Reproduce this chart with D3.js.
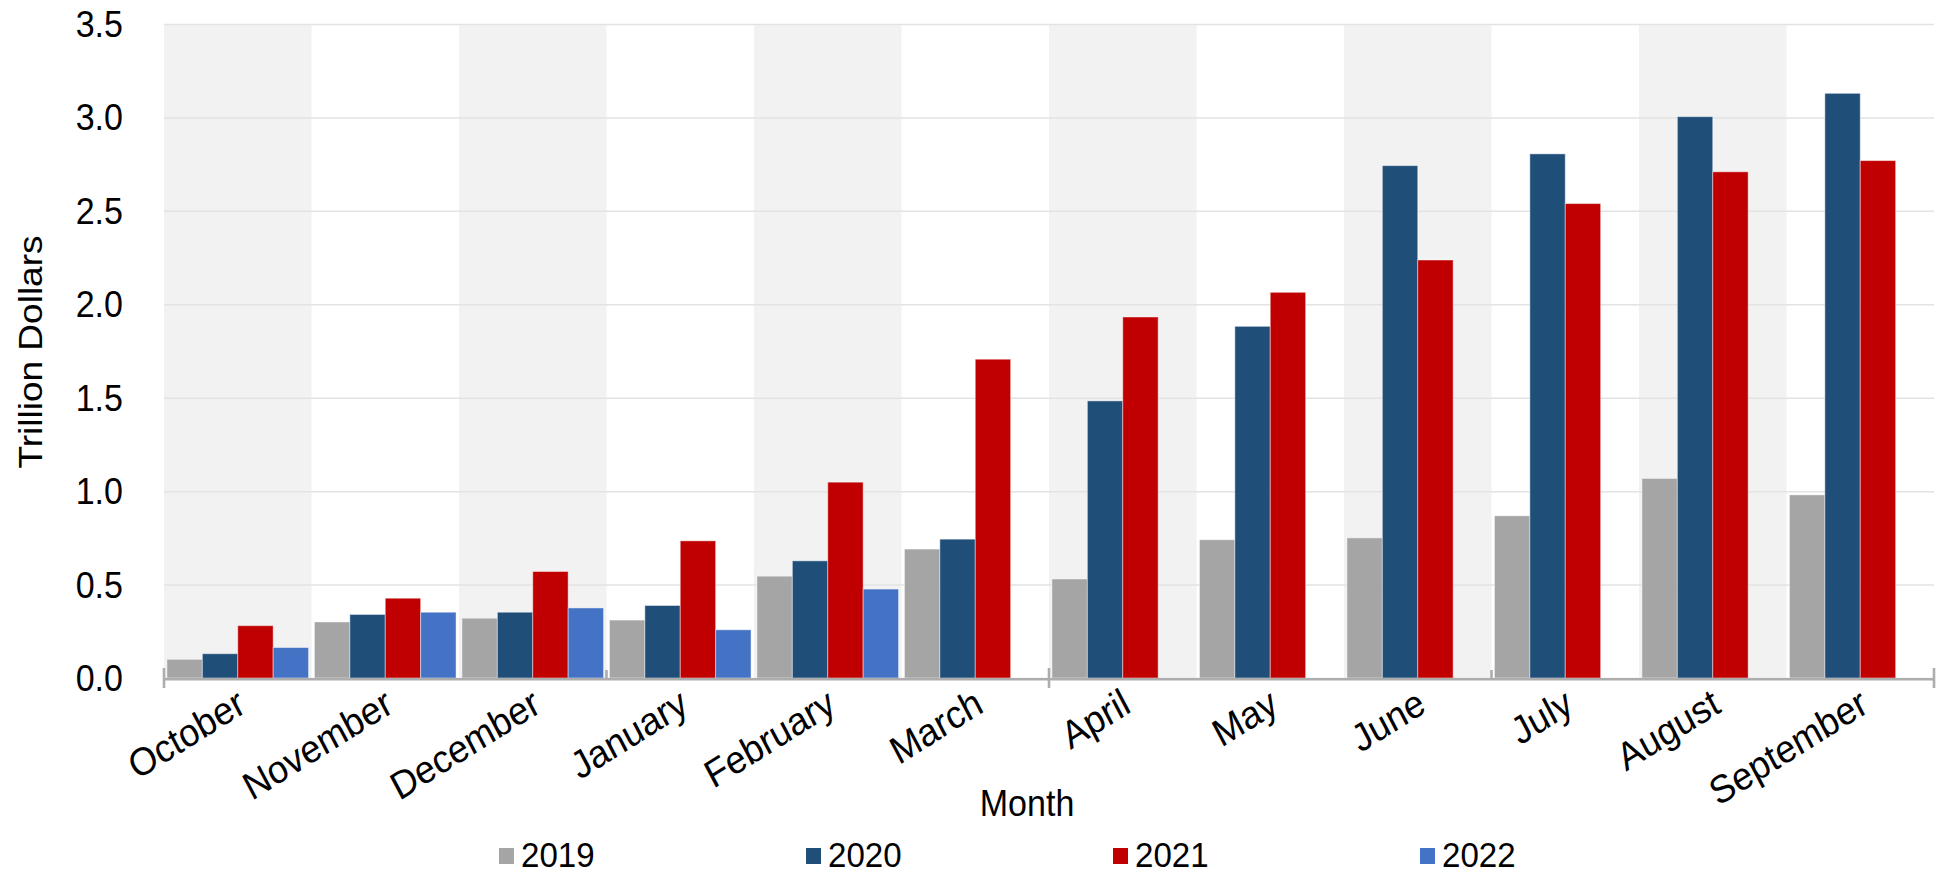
<!DOCTYPE html>
<html>
<head>
<meta charset="utf-8">
<script src="https://cdn.jsdelivr.net/npm/d3@7/dist/d3.min.js"></script>
<style>
    body { margin: 0; background: #fff; }
    text { font-family: "Liberation Sans", Arial, sans-serif; fill: #000; font-size: 37px; }
</style>
</head>
<body>
<div id="chart"></div>
<script>
// chart values, trillion dollars
var months = ["October", "November", "December", "January", "February", "March",
    "April", "May", "June", "July", "August", "September"];
var years = ["2019", "2020", "2021", "2022"];
var values2019 = [0.10, 0.30, 0.32, 0.31, 0.545, 0.69, 0.53, 0.74, 0.75, 0.868, 1.068, 0.98];
var values2020 = [0.13, 0.34, 0.352, 0.388, 0.627, 0.743, 1.483, 1.882, 2.742, 2.805, 3.004, 3.129];
var values2021 = [0.28, 0.427, 0.57, 0.734, 1.048, 1.706, 1.932, 2.064, 2.237, 2.539, 2.709, 2.769];
var values2022 = [0.163, 0.352, 0.375, 0.258, 0.476, null, null, null, null, null, null, null];
var yTicks = [0, 0.5, 1.0, 1.5, 2.0, 2.5, 3.0, 3.5];
var colors = ["#A5A5A5", "#1F4E79", "#C00000", "#4472C4"];

var seriesValues = [values2019, values2020, values2021, values2022];

var svgWidth = 1946;
var svgHeight = 876;

var margin = { top: 24, right: 12, bottom: 198, left: 164 };
var width = 1934 - margin.left;
var height = 678 - margin.top;

// the text in the original is a little narrow
var squeeze = 0.92;

var svg = d3.select("#chart")
    .append("svg")
    .attr("width", svgWidth)
    .attr("height", svgHeight);

var chartGroup = svg.append("g")
    .attr("transform", `translate(${margin.left}, ${margin.top})`);

var x0 = d3.scaleBand()
    .domain(months)
    .range([0, width])
    .paddingInner(0.04)
    .paddingOuter(0.02);

var x1 = d3.scaleBand()
    .domain(years)
    .range([0, x0.bandwidth()]);

var y = d3.scaleLinear()
    .domain([0, 3.5])
    .range([height, 0]);

var step = x0.step();

// alternating month shading
chartGroup.selectAll(".shade")
    .data(months.filter(function (d, i) { return i % 2 === 0; }))
    .enter().append("rect")
    .attr("class", "shade")
    .attr("x", function (d) { return x0(d) - step * x0.paddingInner() / 2; })
    .attr("y", 0)
    .attr("width", step)
    .attr("height", height)
    .attr("fill", "#F2F2F2");

// gridlines
chartGroup.append("g")
    .call(d3.axisLeft(y).tickValues(yTicks).tickSize(-width).tickFormat(""))
    .call(function (g) {
        g.select(".domain").remove();
        g.selectAll("line").attr("stroke", "#E3E3E3").attr("stroke-width", 1.5);
    });

// bars
var rows = months.map(function (m, i) {
    return {
        month: m,
        bars: years.map(function (yr, j) {
            return { year: yr, value: seriesValues[j][i], color: colors[j] };
        }).filter(function (b) { return b.value !== null; })
    };
});

var groups = chartGroup.selectAll(".month")
    .data(rows)
    .enter().append("g")
    .attr("class", "month")
    .attr("transform", function (d) { return `translate(${x0(d.month)}, 0)`; });

groups.selectAll("rect")
    .data(function (d) { return d.bars; })
    .enter().append("rect")
    .attr("x", function (d) { return x1(d.year); })
    .attr("y", function (d) { return y(d.value); })
    .attr("width", x1.bandwidth())
    .attr("height", function (d) { return height - y(d.value); })
    .attr("fill", function (d) { return d.color; })
    .attr("stroke", "rgba(255,255,255,0.45)")
    .attr("stroke-width", 1);

// y axis labels
chartGroup.selectAll(".ylabel")
    .data(yTicks)
    .enter().append("text")
    .attr("class", "ylabel")
    .attr("transform", function (d) { return `translate(-41, ${y(d)}) scale(${squeeze}, 1)`; })
    .attr("dy", "0.35em")
    .style("text-anchor", "end")
    .text(d3.format(".1f"));

// x axis line with ticks every three months
chartGroup.append("line")
    .attr("x1", 0)
    .attr("x2", width)
    .attr("y1", height + 1.2)
    .attr("y2", height + 1.2)
    .attr("stroke", "#ADADAD")
    .attr("stroke-width", 2.6);

var tickIdx = [0, 3, 6, 9, 12];
chartGroup.selectAll(".xtick")
    .data(tickIdx)
    .enter().append("line")
    .attr("class", "xtick")
    .attr("x1", function (d) { return d * step; })
    .attr("x2", function (d) { return d * step; })
    .attr("y1", function (d) { return d % 6 === 0 ? height - 10 : height - 8; })
    .attr("y2", function (d) { return d % 6 === 0 ? height + 10 : height; })
    .attr("stroke", "#ADADAD")
    .attr("stroke-width", 2.6);

// month labels
chartGroup.selectAll(".xlabel")
    .data(months)
    .enter().append("text")
    .attr("class", "xlabel")
    .attr("transform", function (d) {
        return `translate(${x0(d) + x0.bandwidth() / 2 + 10}, ${height + 33}) scale(${squeeze}, 1) rotate(-30)`;
    })
    .style("text-anchor", "end")
    .style("font-size", "39px")
    .text(function (d) { return d; });

// axis titles
svg.append("text")
    .attr("transform", `translate(42, 352) scale(${squeeze}, 1) rotate(-90)`)
    .style("text-anchor", "middle")
    .text("Trillion Dollars");

svg.append("text")
    .attr("transform", `translate(1027, 816) scale(${squeeze}, 1)`)
    .style("text-anchor", "middle")
    .text("Month");

// legend
var legend = svg.selectAll(".legend")
    .data(years)
    .enter().append("g")
    .attr("class", "legend")
    .attr("transform", function (d, i) { return `translate(${499 + i * 307}, 848)`; });

legend.append("rect")
    .attr("width", 15)
    .attr("height", 16)
    .attr("fill", function (d, i) { return colors[i]; });

legend.append("text")
    .attr("transform", `translate(22, 19) scale(${squeeze}, 1)`)
    .style("font-size", "36px")
    .text(function (d) { return d; });
</script>
</body>
</html>
